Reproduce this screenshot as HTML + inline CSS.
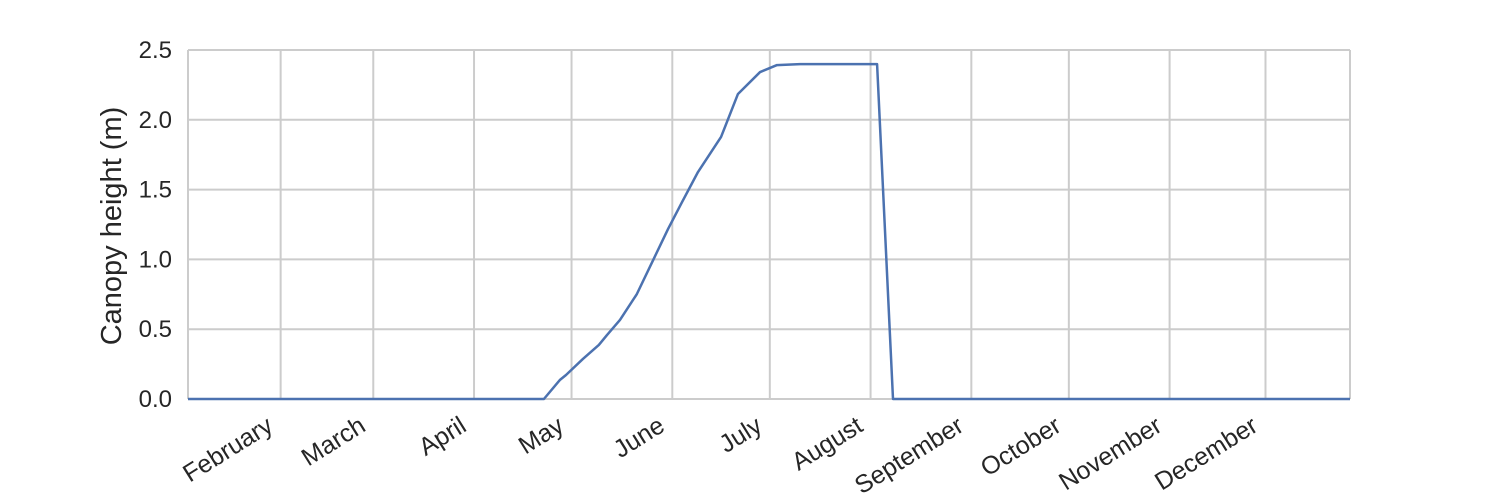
<!DOCTYPE html>
<html><head><meta charset="utf-8"><style>
html,body{margin:0;padding:0;background:#fff;}
svg{display:block;font-family:"Liberation Sans",sans-serif;}
</style></head><body>
<svg id="chart" width="1500" height="500">
<g id="grid"></g>
<g id="yticks"></g>
<g id="xticks"></g>
<text transform="translate(121,226) rotate(-90)" text-anchor="middle" font-size="29" fill="#262626">Canopy height (m)</text>
<g id="series"></g>
</svg>
<script>
const monthNames = ["February","March","April","May","June","July","August","September","October","November","December"];
const monthDays = [31,59.5,90.5,120.5,151.5,181.5,212.5,243.5,273.5,304.5,334];
const yTicks = [0,0.5,1.0,1.5,2.0,2.5];
const days = [2.5,112,116.9,118.8,124,128.9,131.4,135.4,140.6,146.2,150.2,154.5,159.4,166.5,171.7,178.5,183.7,190.8,214.5,219.4,360];
const heights = [0,0,0.136,0.172,0.287,0.387,0.458,0.566,0.752,1.024,1.218,1.411,1.626,1.877,2.185,2.342,2.392,2.399,2.399,0,0];

const L=188,R=1350,T=50,B=399;
const x = d => L + (d-2.5)/(360-2.5)*(R-L);
const y = v => B - v/2.5*(B-T);
const NS="http://www.w3.org/2000/svg";
function mk(tag,attrs,parent){const e=document.createElementNS(NS,tag);for(const k in attrs)e.setAttribute(k,attrs[k]);parent.appendChild(e);return e;}
const grid=document.getElementById('grid'),yt=document.getElementById('yticks'),xt=document.getElementById('xticks'),se=document.getElementById('series');
yTicks.forEach(v=>{
  const l=mk('line',{x1:L,x2:R,y1:y(v),y2:y(v),stroke:'#cccccc','stroke-width':2},grid);
  
  
  const t=mk('text',{x:172,y:y(v)+8,'text-anchor':'end','font-size':24,fill:'#262626'},yt);
  t.textContent=v.toFixed(1);
  
  
});
[L,R].forEach(px=>{const l=mk('line',{x1:px,x2:px,y1:T,y2:B,stroke:'#cccccc','stroke-width':2},grid);
  
  });
monthDays.forEach((d,i)=>{
  const gx=x(d);
  const l=mk('line',{x1:gx,x2:gx,y1:T,y2:B,stroke:'#cccccc','stroke-width':2},grid);
  
  
  const t=mk('text',{transform:`translate(${gx-16},414) rotate(-32)`,'text-anchor':'end','font-size':25,fill:'#262626',dy:'0.75em'},xt);
  t.textContent=monthNames[i];
  
  
});
const p=mk('polyline',{points:days.map((d,i)=>x(d)+','+y(heights[i])).join(' '),fill:'none',stroke:'#4c72b0','stroke-width':2.5,'stroke-linejoin':'round'},se);


</script>
</body></html>
